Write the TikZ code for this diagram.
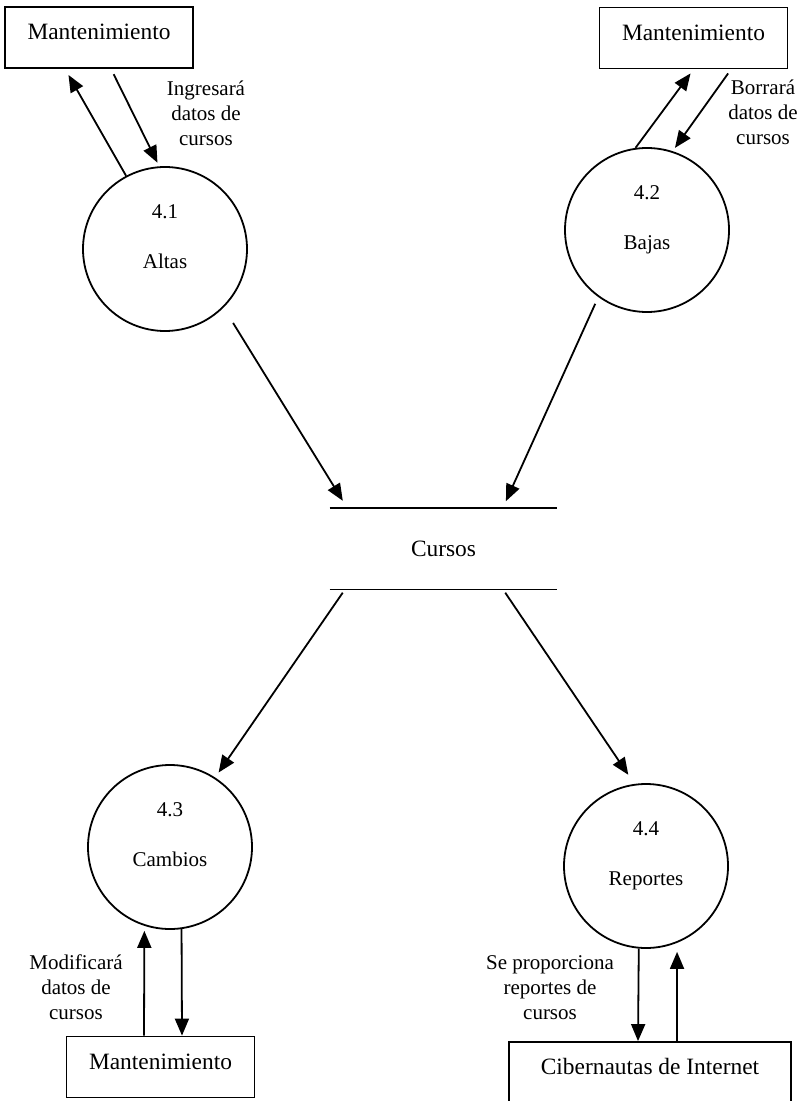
\documentclass[tikz,border=0pt]{standalone}
\usepackage{fontspec}
\setmainfont{Liberation Serif}
\usetikzlibrary{positioning,arrows.meta}

\begin{document}
\begin{tikzpicture}[x=0.5pt,y=-0.5pt,
	flow/.style={-{Triangle[length=8.5pt,width=7pt]},line width=0.9pt},
	ent/.style={shape=rectangle,draw=black,line width=0.9pt,minimum width=94pt,minimum height=30.5pt,text height=7.7pt,text depth=5.5pt,font=\fontsize{11.7}{14}\selectfont},
	proc/.style={shape=circle,draw=black,line width=0.9pt,minimum size=82pt,inner sep=0pt,align=center,text depth=12pt,font=\fontsize{10.5}{12.5}\selectfont},
	lbl/.style={align=center,inner sep=0pt,font=\fontsize{10.5}{12.5}\selectfont}]
	
	\useasboundingbox (0,0) rectangle (801,1101);
	
	\node[ent] (m1) at (99,37.5) {Mantenimiento};
	\node[ent] (m2) at (693.5,38) {Mantenimiento};
	\node[proc] (1) at (165,249) {4.1\\[12.5pt]Altas};
	\node[proc] (2) at (647,230) {4.2\\[12.5pt]Bajas};
	\node[shape=rectangle,minimum width=113.5pt,minimum height=40.5pt,font=\fontsize{11.7}{14}\selectfont] (cur) at (443.5,548.5) {Cursos};
	\node[proc] (3) at (170,847) {4.3\\[12.5pt]Cambios};
	\node[proc] (4) at (646,866) {4.4\\[12.5pt]Reportes};
	\node[ent] (m3) at (160.5,1067) {Mantenimiento};
	\node[ent,minimum width=141pt] (cib) at (650,1072.5) {Cibernautas de Internet};
	
	\draw[line width=0.9pt] (cur.north west) -- (cur.north east);
	\draw[line width=0.9pt] (cur.south west) -- (cur.south east);
	
	\node[lbl] (t1) at (206,113) {Ingresará\\datos de\\cursos};
	\node[lbl] (t2) at (763,112) {Borrará\\datos de\\cursos};
	\node[lbl] (t3) at (76,987) {Modificará\\datos de\\cursos};
	\node[lbl] (t4) at (550,988) {Se proporciona\\reportes de\\cursos};
	
	\path [flow,shorten >=3.5pt] (1.118) edge ([xshift=-17pt]m1.south);
	\path [flow,shorten <=3pt,shorten >=2pt] ([xshift=6pt]m1.south) edge (1.94);
	\path [flow,shorten >=2.5pt] (2.98) edge (m2.south);
	\path [flow,shorten <=2.5pt,shorten >=2pt] ([xshift=18.75pt]m2.south) edge (2.72);
	
	\path [flow,shorten <=9pt,shorten >=4pt] (1.315) edge ([xshift=-48.25pt]cur.north);
	\path [flow,shorten <=3.7pt,shorten >=3.5pt] (2.234) edge ([xshift=29.75pt]cur.north);
	\path [flow,shorten <=2pt,shorten >=3pt] ([xshift=-49.25pt]cur.south) edge (3.57);
	\path [flow,shorten <=2pt,shorten >=5.5pt] ([xshift=29.75pt]cur.south) edge (4.98);
	
	\path [flow] (3.278) edge ([xshift=10.75pt]m3.north);
	\path [flow,shorten >=2.5pt] ([xshift=-8.25pt]m3.north) edge (3.252);
	\path [flow] (4.265) edge ([xshift=-6pt]cib.north);
	\path [flow,shorten >=4.5pt] ([xshift=13.5pt]cib.north) edge (4.292);
	
\end{tikzpicture}
\end{document}
